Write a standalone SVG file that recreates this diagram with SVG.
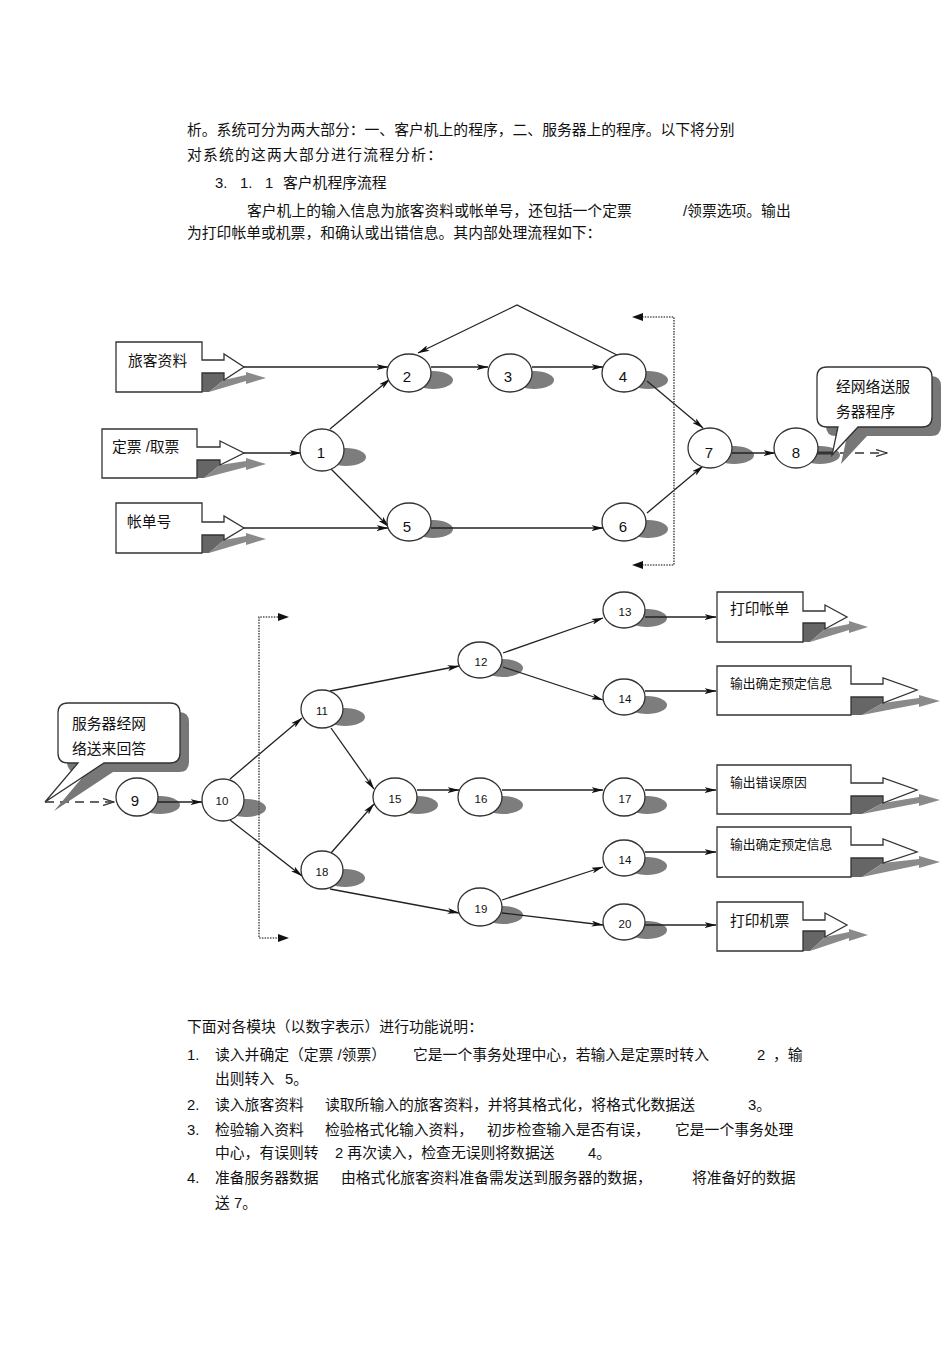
<svg xmlns="http://www.w3.org/2000/svg" width="950" height="1345" viewBox="0 0 950 1345">
<style>
.t{font-family:"Liberation Sans","Noto Sans CJK SC",sans-serif;fill:#111;font-size:14.8px}
.s13{font-size:12.8px}
.num{font-family:"Liberation Sans",sans-serif;fill:#111;font-size:15px;text-anchor:middle}
.nums{font-family:"Liberation Sans",sans-serif;fill:#111;font-size:11.5px;text-anchor:middle}
.nd{fill:#fff;stroke:#333;stroke-width:1.3}
.sh{fill:#7d7d7d}
.shd{fill:#666}
.shl{fill:#8a8a8a}
.bx{fill:#fff;stroke:#333;stroke-width:1.3;stroke-linejoin:miter}
.e{fill:none;stroke:#222;stroke-width:1.3;marker-end:url(#ah)}
.dot{fill:none;stroke:#555;stroke-width:1.6;stroke-dasharray:1.5 1.2}
.dash{fill:none;stroke:#333;stroke-width:1.5;stroke-dasharray:9 6;marker-end:url(#oh)}
</style>
<defs>
<marker id="ah" viewBox="0 0 12 6" refX="11.5" refY="3" markerWidth="12" markerHeight="6" markerUnits="userSpaceOnUse" orient="auto">
<path d="M0,0 L12,3 L0,6 L3,3 Z" fill="#111"/>
</marker>
<marker id="oh" viewBox="0 0 12 8" refX="11" refY="4" markerWidth="12" markerHeight="8" markerUnits="userSpaceOnUse" orient="auto">
<path d="M0,0.5 L11,4 L0,7.5" fill="none" stroke="#333" stroke-width="1.3"/>
</marker>
</defs>
<rect width="950" height="1345" fill="#fff"/>

<g id="text-top">
<text class="t" x="187" y="135">析。系统可分为两大部分：一、客户机上的程序，二、服务器上的程序。以下将分别</text>
<text class="t" x="187" y="160" textLength="255" lengthAdjust="spacing">对系统的这两大部分进行流程分析：</text>
<text class="t" x="215" y="188">3.</text><text class="t" x="240" y="188">1.</text><text class="t" x="265" y="188">1</text><text class="t" x="283" y="188">客户机程序流程</text>
<text class="t" x="247" y="216">客户机上的输入信息为旅客资料或帐单号，还包括一个定票</text>
<text class="t" x="683" y="216">/领票选项。输出</text>
<text class="t" x="187" y="238">为打印帐单或机票，和确认或出错信息。其内部处理流程如下：</text>
</g>

<g id="shadows">
<ellipse class="sh" cx="346" cy="457" rx="20" ry="9"/>
<ellipse class="sh" cx="433" cy="380" rx="20" ry="9"/>
<ellipse class="sh" cx="534" cy="380" rx="20" ry="9"/>
<ellipse class="sh" cx="648" cy="380" rx="20" ry="9"/>
<ellipse class="sh" cx="433" cy="529" rx="20" ry="9"/>
<ellipse class="sh" cx="648" cy="529" rx="20" ry="9"/>
<ellipse class="sh" cx="734" cy="455" rx="20" ry="9"/>
<ellipse class="sh" cx="820" cy="455" rx="20" ry="9"/>
<ellipse class="sh" cx="160" cy="805" rx="20" ry="9"/>
<ellipse class="sh" cx="246" cy="808" rx="20" ry="9"/>
<ellipse class="sh" cx="345" cy="717" rx="20" ry="9"/>
<ellipse class="sh" cx="503" cy="668" rx="20" ry="9"/>
<ellipse class="sh" cx="647" cy="618" rx="20" ry="9"/>
<ellipse class="sh" cx="647" cy="705" rx="20" ry="9"/>
<ellipse class="sh" cx="418" cy="805" rx="20" ry="9"/>
<ellipse class="sh" cx="503" cy="805" rx="20" ry="9"/>
<ellipse class="sh" cx="647" cy="805" rx="20" ry="9"/>
<ellipse class="sh" cx="647" cy="866" rx="20" ry="9"/>
<ellipse class="sh" cx="345" cy="878" rx="20" ry="9"/>
<ellipse class="sh" cx="503" cy="915" rx="20" ry="9"/>
<ellipse class="sh" cx="647" cy="930" rx="20" ry="9"/>
</g>

<g id="connectors">
<path class="e" d="M244,367 H388"/>
<path class="e" d="M244,453 H301"/>
<path class="e" d="M244,528 H388"/>
<path class="e" d="M330,429 L390,379"/>
<path class="e" d="M330,468 L389,527"/>
<path class="e" d="M431,367 H488"/>
<path class="e" d="M532,367 H603"/>
<path class="e" d="M617,355 L517,305 L418,353"/>
<path class="e" d="M431,528 H603"/>
<path class="e" d="M647,381 L703,428"/>
<path class="e" d="M647,513 L703,466"/>
<path class="e" d="M732,453 H775"/>
<path d="M817,453 H834" stroke="#333" stroke-width="3" fill="none"/>
<path class="dash" d="M840,453 H887"/>
<path class="dot" d="M642,317 H674 V565 H642"/>
<path d="M632,317 L643,313 L643,321 Z" fill="#111"/>
<path d="M632,565 L643,561 L643,569 Z" fill="#111"/>

<path class="dash" d="M45,802 H114"/>
<path class="e" d="M158,802 H202"/>
<path class="e" d="M230,779 L302,718"/>
<path class="e" d="M230,820 L302,876"/>
<path class="e" d="M330,691 L459,666"/>
<path class="e" d="M503,653 L603,618"/>
<path class="e" d="M503,667 L603,700"/>
<path class="e" d="M331,728 L374,789"/>
<path class="e" d="M331,853 L374,804"/>
<path class="e" d="M417,790 H459"/>
<path class="e" d="M502,790 H603"/>
<path class="e" d="M330,889 L459,913"/>
<path class="e" d="M502,900 L603,867"/>
<path class="e" d="M502,913 L603,925"/>
<path class="e" d="M645,617 H716"/>
<path class="e" d="M645,691 H716"/>
<path class="e" d="M645,790 H716"/>
<path class="e" d="M645,852 H716"/>
<path class="e" d="M645,925 H716"/>
<path class="dot" d="M278,617 H259 V938 H278"/>
<path d="M289,617 L278,613 L278,621 Z" fill="#111"/>
<path d="M289,938 L278,934 L278,942 Z" fill="#111"/>
</g>

<g id="box-lvke">
<path class="shd" d="M202,373 H224 V380 L209,392 H202 Z"/>
<path class="shl" d="M224,380 L246,375 V372 L266,378 L246,384 V381 L209,392 Z"/>
<path class="bx" d="M116,342 H202 V360 H224 V354 L244,367 L224,380 V373 H202 V392 H116 Z"/>
<text class="t" x="128" y="366">旅客资料</text>
</g>
<g id="box-dingpiao">
<path class="shd" d="M197,460 H220 V465 L204,478 H197 Z"/>
<path class="shl" d="M220,465 L246,461 V458 L266,464 L246,470 V467 L204,478 Z"/>
<path class="bx" d="M102,429 H197 V447 H220 V441 L244,453 L220,465 V460 H197 V478 H102 Z"/>
<text class="t" x="112" y="452">定票 /取票</text>
</g>
<g id="box-zhangdan">
<path class="shd" d="M202,535 H224 V540 L209,553 H202 Z"/>
<path class="shl" d="M224,540 L246,536 V533 L266,539 L246,545 V542 L209,553 Z"/>
<path class="bx" d="M116,503 H202 V522 H224 V516 L244,528 L224,540 V535 H202 V553 H116 Z"/>
<text class="t" x="127" y="527">帐单号</text>
</g>

<g id="node-1"><ellipse class="nd" cx="322" cy="450" rx="22" ry="21"/><text class="num" x="321" y="458">1</text></g>
<g id="node-2"><ellipse class="nd" cx="409" cy="373" rx="22" ry="19"/><text class="num" x="407" y="382">2</text></g>
<g id="node-3"><ellipse class="nd" cx="510" cy="373" rx="22" ry="19"/><text class="num" x="508" y="382">3</text></g>
<g id="node-4"><ellipse class="nd" cx="624" cy="373" rx="22" ry="19"/><text class="num" x="623" y="382">4</text></g>
<g id="node-5"><ellipse class="nd" cx="409" cy="522" rx="22" ry="19"/><text class="num" x="407" y="532">5</text></g>
<g id="node-6"><ellipse class="nd" cx="624" cy="522" rx="22" ry="19"/><text class="num" x="623" y="532">6</text></g>
<g id="node-7"><ellipse class="nd" cx="710" cy="448" rx="22" ry="20"/><text class="num" x="709" y="458">7</text></g>
<g id="node-8"><ellipse class="nd" cx="796" cy="448" rx="22" ry="20"/><text class="num" x="796" y="458">8</text></g>

<g id="callout-send">
<path fill="#777" d="M836,376 H931 Q941,376 941,386 V426 Q941,436 931,436 H867 L841,464 L847,436 H836 Q826,436 826,426 V386 Q826,376 836,376 Z"/>
<path class="bx" d="M827,367 H922 Q932,367 932,377 V417 Q932,427 922,427 H858 L832,455 L838,427 H827 Q817,427 817,417 V377 Q817,367 827,367 Z"/>
<text class="t" x="836" y="392">经网络送服</text>
<text class="t" x="836" y="417">务器程序</text>
</g>

<g id="callout-reply">
<path fill="#777" d="M77,712 H179 Q189,712 189,722 V762 Q189,772 179,772 H113 L54,811 L87,772 H77 Q67,772 67,762 V722 Q67,712 77,712 Z"/>
<path class="bx" d="M68,703 H170 Q180,703 180,713 V753 Q180,763 170,763 H104 L45,802 L78,763 H68 Q58,763 58,753 V713 Q58,703 68,703 Z"/>
<text class="t" x="72" y="729">服务器经网</text>
<text class="t" x="72" y="754">络送来回答</text>
</g>

<g id="node-9"><ellipse class="nd" cx="137" cy="797" rx="21" ry="19"/><text class="num" x="135" y="806">9</text></g>
<g id="node-10"><ellipse class="nd" cx="223" cy="800" rx="21" ry="21"/><text class="nums" x="222" y="805">10</text></g>
<g id="node-11"><ellipse class="nd" cx="322" cy="709" rx="21" ry="19"/><text class="nums" x="322" y="715">11</text></g>
<g id="node-12"><ellipse class="nd" cx="480" cy="660" rx="22" ry="18"/><text class="nums" x="481" y="666">12</text></g>
<g id="node-13"><ellipse class="nd" cx="624" cy="610" rx="21" ry="18"/><text class="nums" x="625" y="616">13</text></g>
<g id="node-14a"><ellipse class="nd" cx="624" cy="697" rx="21" ry="18"/><text class="nums" x="625" y="703">14</text></g>
<g id="node-15"><ellipse class="nd" cx="395" cy="797" rx="22" ry="19"/><text class="nums" x="395" y="803">15</text></g>
<g id="node-16"><ellipse class="nd" cx="480" cy="797" rx="22" ry="19"/><text class="nums" x="481" y="803">16</text></g>
<g id="node-17"><ellipse class="nd" cx="624" cy="797" rx="21" ry="19"/><text class="nums" x="625" y="803">17</text></g>
<g id="node-14b"><ellipse class="nd" cx="624" cy="858" rx="21" ry="18"/><text class="nums" x="625" y="864">14</text></g>
<g id="node-18"><ellipse class="nd" cx="322" cy="870" rx="21" ry="19"/><text class="nums" x="322" y="876">18</text></g>
<g id="node-19"><ellipse class="nd" cx="480" cy="907" rx="22" ry="19"/><text class="nums" x="481" y="913">19</text></g>
<g id="node-20"><ellipse class="nd" cx="624" cy="922" rx="21" ry="18"/><text class="nums" x="625" y="928">20</text></g>

<g id="box-print-bill">
<path class="shd" d="M803,623 H825 V629 L810,642 H803 Z"/>
<path class="shl" d="M825,629 L849,624 V621 L868,627 L849,633 V630 L810,642 Z"/>
<path class="bx" d="M717,592 H803 V611 H825 V605 L847,617 L825,629 V623 H803 V642 H717 Z"/>
<text class="t" x="730" y="614">打印帐单</text>
</g>
<g id="box-confirm-1">
<path class="shd" d="M851,697 H883 V703 L862,715 H851 Z"/>
<path class="shl" d="M883,703 L919,698 V695 L940,701 L919,707 V704 L862,715 Z"/>
<path class="bx" d="M717,666 H851 V684 H883 V678 L917,690 L883,703 V697 H851 V715 H717 Z"/>
<text class="t s13" x="730" y="688">输出确定预定信息</text>
</g>
<g id="box-error">
<path class="shd" d="M851,796 H883 V803 L862,814 H851 Z"/>
<path class="shl" d="M883,803 L919,797 V794 L940,800 L919,806 V803 L862,814 Z"/>
<path class="bx" d="M717,765 H851 V783 H883 V778 L917,790 L883,803 V796 H851 V814 H717 Z"/>
<text class="t s13" x="730" y="787">输出错误原因</text>
</g>
<g id="box-confirm-2">
<path class="shd" d="M851,858 H883 V863 L862,877 H851 Z"/>
<path class="shl" d="M883,863 L919,859 V856 L940,862 L919,868 V865 L862,877 Z"/>
<path class="bx" d="M717,827 H851 V845 H883 V839 L917,852 L883,863 V858 H851 V877 H717 Z"/>
<text class="t s13" x="730" y="849">输出确定预定信息</text>
</g>
<g id="box-print-ticket">
<path class="shd" d="M803,931 H825 V937 L810,951 H803 Z"/>
<path class="shl" d="M825,937 L849,932 V929 L868,935 L849,941 V938 L810,951 Z"/>
<path class="bx" d="M717,902 H803 V920 H825 V913 L847,925 L825,937 V931 H803 V951 H717 Z"/>
<text class="t" x="730" y="926">打印机票</text>
</g>

<g id="text-bottom">
<text class="t" x="187" y="1032">下面对各模块（以数字表示）进行功能说明：</text>
<text class="t" x="187" y="1060">1.</text>
<text class="t" x="215" y="1060">读入并确定（定票 /领票）</text>
<text class="t" x="413" y="1060">它是一个事务处理中心，若输入是定票时转入</text>
<text class="t" x="757" y="1060">2</text>
<text class="t" x="773" y="1060">，输</text>
<text class="t" x="215" y="1084">出则转入</text>
<text class="t" x="285" y="1084">5。</text>
<text class="t" x="187" y="1110">2.</text>
<text class="t" x="215" y="1110">读入旅客资料</text>
<text class="t" x="325" y="1110">读取所输入的旅客资料，并将其格式化，将格式化数据送</text>
<text class="t" x="748" y="1110">3。</text>
<text class="t" x="187" y="1135">3.</text>
<text class="t" x="215" y="1135">检验输入资料</text>
<text class="t" x="325" y="1135">检验格式化输入资料，</text>
<text class="t" x="487" y="1135">初步检查输入是否有误，</text>
<text class="t" x="675" y="1135">它是一个事务处理</text>
<text class="t" x="215" y="1158">中心，有误则转</text>
<text class="t" x="335" y="1158">2 再次读入，检查无误则将数据送</text>
<text class="t" x="588" y="1158">4。</text>
<text class="t" x="187" y="1183">4.</text>
<text class="t" x="215" y="1183">准备服务器数据</text>
<text class="t" x="341" y="1183">由格式化旅客资料准备需发送到服务器的数据，</text>
<text class="t" x="692" y="1183">将准备好的数据</text>
<text class="t" x="215" y="1208">送 7。</text>
</g>
</svg>
